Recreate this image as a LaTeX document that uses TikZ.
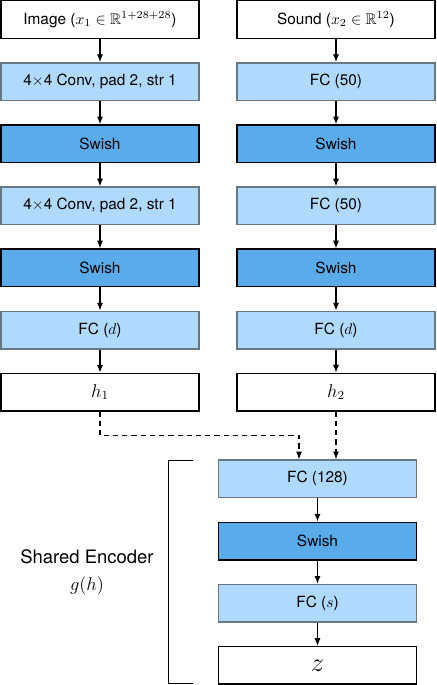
\documentclass[tikz,border=0pt]{standalone}
\usepackage{amssymb}
\usepackage{fontspec}
\setmainfont{TeX Gyre Heros}
\usetikzlibrary{arrows.meta}
\definecolor{lightfill}{RGB}{176,218,253}
\definecolor{darkfill}{RGB}{90,171,234}
\definecolor{lightedge}{RGB}{105,118,132}
\begin{document}
\begin{tikzpicture}[x=0.65pt,y=-0.65pt,
  box/.style={rectangle,minimum width=128.7pt,minimum height=24.4pt,inner sep=0pt,line width=0.95pt,font=\fontsize{10}{12}\selectfont},
  plainbox/.style={box,draw=black,fill=white},
  layerbox/.style={box,draw=lightedge,fill=lightfill},
  actbox/.style={box,draw=black,fill=darkfill},
  arr/.style={line width=0.75pt,-{Latex[length=5pt,width=4pt]}},
  darr/.style={arr,dash pattern=on 3.4pt off 2.6pt}]
\useasboundingbox (0,0) rectangle (436,685);
% left column
\node[plainbox] (img) at (100,19.5) {Image ($x_1\in\mathbb{R}^{1+28+28}$)};
\node[layerbox] (conv1) at (100,81.6) {4$\times$4 Conv, pad 2, str 1};
\node[actbox] (sw1) at (100,143.7) {Swish};
\node[layerbox] (conv2) at (100,205.8) {4$\times$4 Conv, pad 2, str 1};
\node[actbox] (sw2) at (100,267.9) {Swish};
\node[layerbox] (fcd1) at (100,330) {FC ($d$)};
\node[plainbox,font=\fontsize{12}{14}\selectfont] (h1) at (100,392.1) {$h_1$};
% right column
\node[plainbox] (snd) at (336,19.5) {Sound ($x_2\in\mathbb{R}^{12}$)};
\node[layerbox] (fc50a) at (336,81.6) {FC (50)};
\node[actbox] (sw3) at (336,143.7) {Swish};
\node[layerbox] (fc50b) at (336,205.8) {FC (50)};
\node[actbox] (sw4) at (336,267.9) {Swish};
\node[layerbox] (fcd2) at (336,330) {FC ($d$)};
\node[plainbox,font=\fontsize{12}{14}\selectfont] (h2) at (336,392.1) {$h_2$};
% shared encoder
\node[layerbox] (fc128) at (317.5,478.8) {FC (128)};
\node[actbox] (sw5) at (317.5,541) {Swish};
\node[layerbox] (fcs) at (317.5,603.2) {FC ($s$)};
\node[plainbox,font=\fontsize{17}{20}\selectfont] (z) at (317.5,665.4) {$z$};
% arrows
\foreach \a/\b in {img/conv1,conv1/sw1,sw1/conv2,conv2/sw2,sw2/fcd1,fcd1/h1,
                   snd/fc50a,fc50a/sw3,sw3/fc50b,fc50b/sw4,sw4/fcd2,fcd2/h2,
                   fc128/sw5,sw5/fcs,fcs/z}
  \draw[arr] (\a) -- (\b);
\coordinate (in1) at ([xshift=-12pt]fc128.north);
\draw[darr] (h1.south) -- ++(0,24) -| (in1);
\draw[darr] (h2.south) -- (h2.south |- fc128.north);
% bracket
\draw[line width=0.95pt] (193,460.5) -- (168.5,460.5) -- (168.5,683.5) -- (193,683.5);
\node[font=\fontsize{12}{14}\selectfont] (lbl) at (87,557) {Shared Encoder};
\node[font=\fontsize{12}{14}\selectfont] (lblg) at (87,586) {$g(h)$};
\end{tikzpicture}
\end{document}
